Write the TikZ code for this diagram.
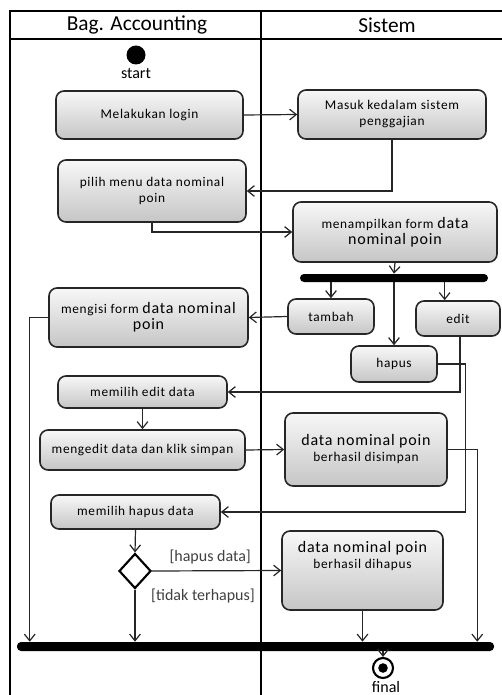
\documentclass[tikz,border=0pt]{standalone}
\usepackage{fontspec}
\setmainfont{Carlito}
\usetikzlibrary{arrows.meta,shapes.geometric}
\newcommand{\bigtxt}[1]{{\fontsize{12}{14}\selectfont #1}}
\begin{document}
\begin{tikzpicture}[x=0.75pt,y=0.75pt,yscale=-1,xscale=1,
        act/.style={draw=black!85,line width=1.2pt,rounded corners=6pt,top color=gray!6,bottom color=gray!45,align=center,font=\fontsize{10}{12}\selectfont\addfontfeature{LetterSpace=5},inner sep=2pt},
        bar/.style={fill=black,rounded corners=3pt,inner sep=0pt},
        flow/.style={draw=black!85,line width=0.9pt,-{Straight Barb[length=5pt,width=8pt]}},
        lbl/.style={font=\fontsize{12}{14}\selectfont,text=black!75},
        lane/.style={font=\fontsize{16}{18}\selectfont}]
        \useasboundingbox (0,0) rectangle (501,695);
        \draw[line width=1.5pt] (10,11) rectangle (520,710);
        \draw[line width=1.5pt] (10,39) -- (520,39);
        \draw[line width=1.5pt] (261,11) -- (261,710);
        \node[lane] (accounting) at (137,25) {Bag. Accounting};
        \node[lane] (sistem) at (387,25) {Sistem};
        \node[circle,fill=black,inner sep=0pt,minimum size=14.25pt] (start) at (136,55) {};
        \node[lbl,text=black] (startlbl) at (136,74) {start};
        \node[act,minimum width=140.25pt,minimum height=36pt] (login) at (149.5,115) {Melakukan  login};
        \node[act,minimum width=141pt,minimum height=36.75pt] (masuk) at (392,114.5) {Masuk kedalam sistem\\penggajian};
        \node[act,minimum width=141pt,minimum height=46.5pt] (pilih) at (152,191) {pilih menu  data nominal\\poin};
        \node[act,minimum width=153pt,minimum height=45pt] (tampil) at (395,232) {menampilkan form \bigtxt{data}\\\bigtxt{nominal poin}};
        \node[bar,minimum width=141pt,minimum height=6pt] (fork) at (394,278) {};
        \node[act,minimum width=64.5pt,minimum height=26.25pt] (tambah) at (331,316.5) {tambah};
        \node[act,minimum width=63pt,minimum height=26.25pt] (edit) at (458,318.5) {edit};
        \node[act,minimum width=64.5pt,minimum height=27pt] (hapus) at (394,364) {hapus};
        \node[act,minimum width=149.25pt,minimum height=44.25pt] (mengisi) at (148.5,317.5) {mengisi form \bigtxt{data nominal}\\\bigtxt{poin}};
        \node[act,minimum width=126.75pt,minimum height=24pt] (editdata) at (142.5,392) {memilih  edit data};
        \node[act,minimum width=153.75pt,minimum height=30pt] (mengedit) at (142.5,450) {mengedit  data dan klik simpan};
        \node[act,minimum width=121.5pt,minimum height=54.75pt] (simpan) at (366,449.5) {\bigtxt{data nominal poin}\\berhasil disimpan};
        \node[act,minimum width=126.75pt,minimum height=25.5pt] (hapusdata) at (135.5,512) {memilih  hapus data};
        \node[diamond,draw=black,line width=1.6pt,fill=white,inner sep=0pt,minimum width=24pt,minimum height=26.25pt] (decision) at (135,571) {};
        \node[act,minimum width=120.75pt,minimum height=59.25pt] (dihapus) at (362.5,570.5) {\bigtxt{data nominal poin}\\berhasil dihapus\\[12pt]\mbox{}};
        \node[bar,minimum width=357.75pt,minimum height=6.75pt] (join) at (255.5,646.5) {};
        \node[circle,draw=black,line width=1.6pt,inner sep=0pt,minimum size=15pt,path picture={\fill[black] (path picture bounding box.center) circle (3.6pt);}] (final) at (383,668) {};
        \node[lbl,text=black] (finallbl) at (386,687) {final};
        \node[lbl] (tidak) at (203,596) {[tidak terhapus]};
        \draw[flow] (login.east) -- (masuk.west);
        \draw[flow] (masuk.south) |- (pilih.east);
        \draw[flow] (pilih.south) |- (tampil.west);
        \draw[flow] (tampil.south) -- (fork.north);
        \draw[flow] (tambah.north |- fork.south) -- (tambah.north);
        \draw[flow] (hapus.north |- fork.south) -- (hapus.north);
        \draw[flow] ([xshift=-10pt]edit.north |- fork.south) -- ([xshift=-10pt]edit.north);
        \draw[flow] (tambah.west) -- (mengisi.east);
        \draw[flow] (mengisi.west) -| ([xshift=9.75pt]join.north west);
        \draw[flow] ([xshift=1.5pt]edit.south) |- (editdata.east);
        \draw[flow] (hapus.east) -- ++(28,0) |- (hapusdata.east);
        \draw[flow] (editdata.south) -- (mengedit.north);
        \draw[flow] (mengedit.east) -- (simpan.west);
        \draw[flow] (simpan.east) -| ([xshift=-12.75pt]join.north east);
        \draw[flow] (hapusdata.south) -- (decision.north);
        \draw[flow] (decision.east) -- node[lbl,above=1pt,pos=0.45] {[hapus data]} (dihapus.west);
        \draw[flow] (decision.south) -- (decision.south |- join.north);
        \draw[flow] (dihapus.south) -- (dihapus.south |- join.north);
        \draw[flow] (final.north |- join.south) -- (final.north);
    \end{tikzpicture}
\end{document}
